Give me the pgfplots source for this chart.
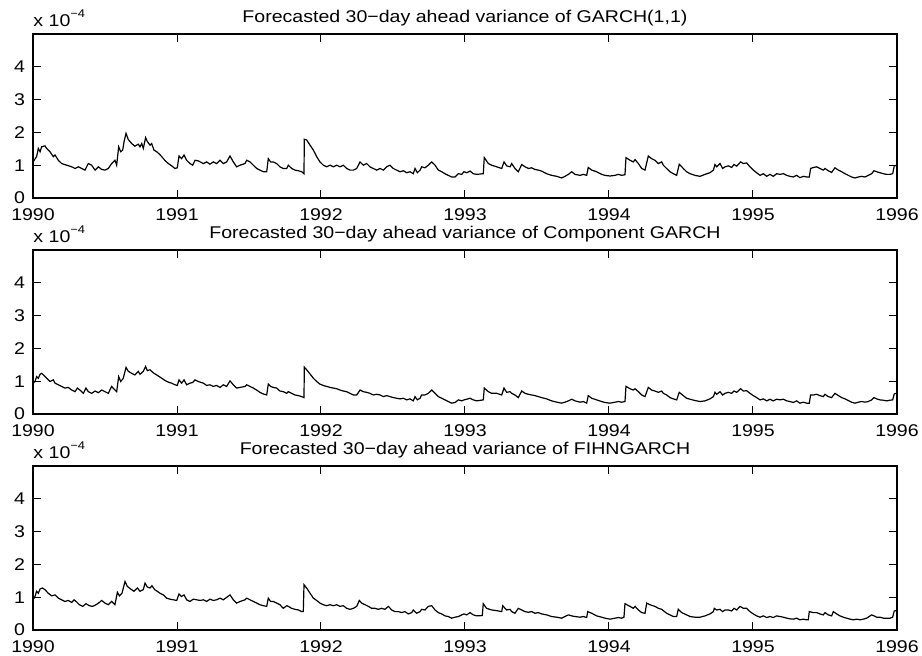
\documentclass[border=0pt]{standalone}
\usepackage{fontspec}
\setmainfont{Liberation Sans}
\usepackage{pgfplots}
\usepackage{pgfplotstable}
\pgfplotsset{compat=1.18}

% Forecasted 30-day ahead variance, in units of 1e-4
\pgfplotstableread{
year v
1990.000 1.10
1990.025 1.26
1990.037 1.51
1990.049 1.41
1990.060 1.56
1990.083 1.59
1990.095 1.51
1990.118 1.41
1990.141 1.26
1990.153 1.31
1990.176 1.15
1990.199 1.05
1990.234 1.00
1990.269 0.95
1990.292 0.90
1990.315 0.95
1990.338 0.90
1990.361 0.85
1990.384 1.05
1990.407 1.00
1990.431 0.85
1990.454 0.95
1990.477 0.87
1990.500 0.85
1990.523 0.90
1990.546 1.05
1990.569 1.15
1990.581 1.00
1990.595 1.56
1990.609 1.41
1990.623 1.46
1990.632 1.71
1990.646 1.97
1990.662 1.78
1990.685 1.66
1990.708 1.58
1990.731 1.64
1990.743 1.56
1990.755 1.66
1990.766 1.51
1990.782 1.84
1990.794 1.72
1990.813 1.61
1990.824 1.66
1990.840 1.46
1990.859 1.41
1990.877 1.34
1990.894 1.26
1990.917 1.14
1990.940 1.05
1990.963 0.98
1990.986 0.90
1991.002 0.92
1991.014 1.28
1991.032 1.20
1991.049 1.31
1991.067 1.15
1991.090 1.05
1991.109 1.00
1991.125 1.15
1991.148 1.13
1991.183 1.05
1991.206 1.10
1991.229 1.03
1991.252 1.10
1991.275 1.05
1991.299 1.15
1991.322 1.05
1991.345 1.10
1991.368 1.28
1991.391 1.10
1991.414 0.95
1991.438 1.00
1991.472 1.05
1991.484 1.15
1991.507 1.10
1991.530 1.00
1991.553 0.90
1991.576 0.85
1991.600 0.80
1991.623 0.80
1991.634 1.20
1991.650 1.10
1991.669 1.10
1991.692 1.05
1991.715 0.95
1991.738 0.90
1991.762 0.90
1991.773 1.00
1991.796 0.90
1991.819 0.85
1991.843 0.83
1991.866 0.80
1991.882 0.74
1991.884 1.79
1991.900 1.77
1991.924 1.61
1991.947 1.46
1991.970 1.26
1991.993 1.10
1992.016 1.00
1992.039 0.95
1992.063 1.00
1992.086 0.95
1992.109 1.00
1992.132 0.95
1992.155 1.00
1992.178 0.90
1992.201 0.85
1992.225 0.85
1992.248 0.90
1992.271 1.10
1992.294 1.00
1992.317 1.05
1992.340 0.95
1992.363 0.90
1992.387 0.85
1992.410 0.90
1992.433 0.85
1992.456 0.95
1992.479 1.00
1992.502 0.90
1992.525 0.85
1992.549 0.80
1992.572 0.83
1992.595 0.77
1992.618 0.80
1992.641 0.74
1992.653 0.90
1992.669 0.77
1992.688 0.85
1992.699 0.95
1992.722 0.92
1992.745 1.00
1992.769 1.10
1992.792 1.00
1992.815 0.85
1992.838 0.80
1992.861 0.74
1992.884 0.69
1992.907 0.64
1992.931 0.64
1992.954 0.74
1992.977 0.72
1992.993 0.80
1993.012 0.77
1993.035 0.82
1993.058 0.74
1993.081 0.72
1993.127 0.74
1993.134 1.23
1993.162 1.05
1993.185 1.00
1993.220 0.95
1993.255 0.90
1993.271 1.10
1993.289 0.98
1993.313 0.95
1993.324 1.05
1993.347 0.90
1993.370 0.80
1993.394 1.02
1993.417 0.95
1993.440 0.90
1993.463 0.92
1993.486 0.87
1993.509 0.85
1993.532 0.82
1993.567 0.74
1993.602 0.69
1993.637 0.66
1993.671 0.61
1993.694 0.66
1993.718 0.72
1993.741 0.80
1993.764 0.72
1993.799 0.69
1993.822 0.72
1993.845 0.69
1993.856 0.93
1993.880 0.85
1993.914 0.80
1993.949 0.72
1993.972 0.69
1994.007 0.67
1994.042 0.69
1994.065 0.72
1994.088 0.69
1994.111 0.71
1994.118 1.23
1994.146 1.15
1994.169 1.10
1994.181 1.17
1994.204 1.05
1994.227 0.90
1994.250 0.85
1994.273 1.28
1994.296 1.20
1994.319 1.15
1994.343 1.05
1994.366 1.10
1994.377 1.00
1994.400 0.90
1994.424 0.80
1994.447 0.74
1994.470 0.69
1994.488 1.03
1994.516 0.90
1994.539 0.80
1994.563 0.74
1994.597 0.69
1994.632 0.66
1994.667 0.72
1994.701 0.77
1994.725 0.85
1994.736 1.02
1994.748 0.95
1994.771 1.05
1994.789 0.90
1994.806 0.95
1994.829 0.98
1994.852 0.93
1994.868 1.02
1994.887 0.97
1994.914 1.10
1994.933 1.05
1994.956 1.07
1994.979 0.95
1995.002 0.85
1995.025 0.77
1995.049 0.69
1995.072 0.74
1995.095 0.66
1995.118 0.72
1995.141 0.66
1995.164 0.74
1995.188 0.72
1995.211 0.74
1995.234 0.69
1995.257 0.66
1995.280 0.64
1995.303 0.69
1995.326 0.62
1995.350 0.66
1995.373 0.64
1995.391 0.64
1995.400 0.90
1995.419 0.93
1995.442 0.95
1995.465 0.90
1995.488 0.85
1995.500 0.90
1995.523 0.83
1995.546 0.78
1995.569 0.92
1995.593 0.85
1995.616 0.80
1995.639 0.74
1995.662 0.69
1995.685 0.64
1995.708 0.61
1995.731 0.64
1995.755 0.66
1995.778 0.64
1995.801 0.69
1995.824 0.74
1995.840 0.83
1995.859 0.80
1995.882 0.77
1995.905 0.74
1995.928 0.72
1995.951 0.72
1995.970 0.74
1995.981 0.98
1995.993 0.99
}\garch

\pgfplotstableread{
year v
1990.000 0.94
1990.014 0.99
1990.025 1.14
1990.037 1.09
1990.049 1.21
1990.060 1.24
1990.072 1.19
1990.095 1.09
1990.118 0.99
1990.141 1.04
1990.153 0.94
1990.176 0.89
1990.199 0.84
1990.222 0.79
1990.245 0.81
1990.269 0.73
1990.292 0.68
1990.308 0.79
1990.326 0.73
1990.350 0.63
1990.368 0.79
1990.384 0.68
1990.407 0.63
1990.431 0.70
1990.454 0.65
1990.477 0.73
1990.500 0.68
1990.523 0.63
1990.546 0.84
1990.569 0.73
1990.581 0.68
1990.595 1.14
1990.609 0.99
1990.627 1.09
1990.646 1.42
1990.662 1.30
1990.685 1.24
1990.708 1.19
1990.731 1.30
1990.743 1.21
1990.766 1.30
1990.782 1.45
1990.794 1.32
1990.813 1.35
1990.824 1.30
1990.840 1.24
1990.859 1.19
1990.877 1.14
1990.894 1.09
1990.917 1.02
1990.940 0.97
1990.963 0.94
1990.986 0.89
1991.002 0.87
1991.014 1.04
1991.032 0.94
1991.049 1.04
1991.067 0.89
1991.090 0.94
1991.109 0.96
1991.125 1.04
1991.148 0.99
1991.183 0.94
1991.206 0.87
1991.229 0.89
1991.252 0.84
1991.275 0.87
1991.299 0.81
1991.322 0.89
1991.345 0.84
1991.368 1.01
1991.391 0.89
1991.414 0.79
1991.438 0.81
1991.472 0.84
1991.484 0.89
1991.507 0.84
1991.530 0.79
1991.553 0.73
1991.576 0.66
1991.600 0.61
1991.623 0.58
1991.634 0.91
1991.650 0.84
1991.669 0.81
1991.692 0.79
1991.715 0.70
1991.738 0.68
1991.762 0.63
1991.773 0.68
1991.796 0.63
1991.819 0.58
1991.843 0.56
1991.866 0.53
1991.882 0.50
1991.884 1.43
1991.900 1.35
1991.924 1.22
1991.947 1.09
1991.970 0.99
1991.993 0.91
1992.016 0.87
1992.039 0.84
1992.063 0.81
1992.086 0.79
1992.109 0.77
1992.132 0.73
1992.155 0.70
1992.178 0.68
1992.201 0.63
1992.225 0.58
1992.248 0.58
1992.271 0.73
1992.294 0.68
1992.317 0.66
1992.340 0.63
1992.363 0.58
1992.387 0.60
1992.410 0.58
1992.433 0.53
1992.456 0.56
1992.479 0.53
1992.502 0.50
1992.525 0.48
1992.549 0.46
1992.572 0.48
1992.595 0.43
1992.618 0.46
1992.641 0.40
1992.653 0.53
1992.669 0.43
1992.688 0.48
1992.699 0.58
1992.722 0.58
1992.745 0.63
1992.769 0.73
1992.792 0.63
1992.815 0.53
1992.838 0.48
1992.861 0.43
1992.884 0.38
1992.907 0.33
1992.931 0.35
1992.954 0.43
1992.977 0.40
1992.993 0.43
1993.012 0.45
1993.035 0.48
1993.058 0.43
1993.081 0.40
1993.127 0.43
1993.134 0.79
1993.162 0.68
1993.185 0.63
1993.220 0.63
1993.255 0.58
1993.271 0.79
1993.289 0.66
1993.313 0.68
1993.324 0.63
1993.347 0.58
1993.370 0.50
1993.394 0.70
1993.417 0.63
1993.440 0.60
1993.463 0.58
1993.486 0.56
1993.509 0.53
1993.532 0.50
1993.567 0.46
1993.602 0.40
1993.637 0.36
1993.671 0.33
1993.694 0.36
1993.718 0.40
1993.741 0.45
1993.764 0.40
1993.799 0.36
1993.822 0.38
1993.845 0.33
1993.856 0.56
1993.880 0.48
1993.914 0.43
1993.949 0.38
1993.972 0.35
1994.007 0.33
1994.042 0.36
1994.065 0.38
1994.088 0.36
1994.111 0.38
1994.118 0.84
1994.146 0.77
1994.169 0.73
1994.181 0.77
1994.204 0.68
1994.227 0.58
1994.250 0.53
1994.273 0.81
1994.296 0.73
1994.319 0.70
1994.343 0.66
1994.366 0.70
1994.377 0.63
1994.400 0.58
1994.424 0.50
1994.447 0.46
1994.470 0.43
1994.488 0.66
1994.516 0.56
1994.539 0.48
1994.563 0.45
1994.597 0.41
1994.632 0.38
1994.667 0.40
1994.701 0.46
1994.725 0.53
1994.736 0.66
1994.748 0.60
1994.771 0.68
1994.789 0.58
1994.806 0.63
1994.829 0.66
1994.852 0.63
1994.868 0.70
1994.887 0.66
1994.914 0.77
1994.933 0.70
1994.956 0.71
1994.979 0.63
1995.002 0.56
1995.025 0.50
1995.049 0.43
1995.072 0.46
1995.095 0.40
1995.118 0.45
1995.141 0.40
1995.164 0.45
1995.188 0.43
1995.211 0.45
1995.234 0.40
1995.257 0.38
1995.280 0.35
1995.303 0.40
1995.326 0.33
1995.350 0.36
1995.373 0.33
1995.391 0.33
1995.400 0.58
1995.419 0.58
1995.442 0.60
1995.465 0.56
1995.488 0.53
1995.500 0.60
1995.523 0.53
1995.546 0.50
1995.569 0.63
1995.593 0.56
1995.616 0.50
1995.639 0.46
1995.662 0.41
1995.685 0.36
1995.708 0.33
1995.731 0.36
1995.755 0.38
1995.778 0.36
1995.801 0.38
1995.824 0.43
1995.840 0.50
1995.859 0.46
1995.882 0.43
1995.905 0.42
1995.928 0.40
1995.951 0.42
1995.970 0.43
1995.981 0.61
1995.993 0.63
}\compgarch

\pgfplotstableread{
year v
1990.000 0.92
1990.014 1.02
1990.025 1.18
1990.037 1.12
1990.049 1.25
1990.065 1.28
1990.083 1.23
1990.106 1.12
1990.130 1.04
1990.153 1.07
1990.176 0.97
1990.199 0.92
1990.222 0.87
1990.245 0.90
1990.269 0.84
1990.285 0.92
1990.299 0.87
1990.322 0.77
1990.345 0.72
1990.368 0.80
1990.391 0.74
1990.414 0.72
1990.438 0.77
1990.461 0.84
1990.477 0.90
1990.500 0.82
1990.523 0.77
1990.546 0.87
1990.569 0.77
1990.586 1.15
1990.600 1.04
1990.618 1.12
1990.639 1.48
1990.655 1.33
1990.678 1.25
1990.701 1.18
1990.725 1.28
1990.743 1.18
1990.766 1.23
1990.778 1.43
1990.794 1.31
1990.813 1.28
1990.826 1.35
1990.845 1.23
1990.863 1.18
1990.882 1.12
1990.905 1.07
1990.928 0.97
1990.951 0.94
1990.975 0.92
1990.998 0.90
1991.014 1.10
1991.032 1.02
1991.049 1.07
1991.067 0.92
1991.090 0.87
1991.113 0.94
1991.137 0.92
1991.160 0.90
1991.183 0.92
1991.206 0.87
1991.229 0.94
1991.252 0.90
1991.275 0.92
1991.299 0.97
1991.322 0.92
1991.368 1.07
1991.391 0.92
1991.414 0.82
1991.438 0.87
1991.472 0.92
1991.484 0.97
1991.507 0.92
1991.530 0.87
1991.553 0.82
1991.576 0.77
1991.600 0.74
1991.623 0.72
1991.634 0.97
1991.650 0.87
1991.669 0.87
1991.692 0.82
1991.715 0.77
1991.738 0.66
1991.762 0.74
1991.773 0.72
1991.796 0.66
1991.819 0.63
1991.843 0.61
1991.866 0.56
1991.877 0.56
1991.882 1.38
1991.900 1.28
1991.924 1.12
1991.947 0.97
1991.970 0.90
1991.993 0.82
1992.016 0.77
1992.039 0.74
1992.063 0.77
1992.086 0.74
1992.109 0.77
1992.132 0.72
1992.155 0.74
1992.178 0.66
1992.201 0.63
1992.225 0.66
1992.248 0.72
1992.266 0.90
1992.282 0.82
1992.306 0.77
1992.329 0.72
1992.352 0.66
1992.375 0.66
1992.398 0.63
1992.421 0.66
1992.444 0.63
1992.468 0.72
1992.491 0.61
1992.514 0.56
1992.537 0.56
1992.560 0.53
1992.583 0.56
1992.606 0.49
1992.630 0.53
1992.641 0.61
1992.664 0.51
1992.688 0.56
1992.699 0.63
1992.722 0.61
1992.745 0.72
1992.769 0.74
1992.792 0.61
1992.815 0.53
1992.838 0.49
1992.861 0.43
1992.884 0.41
1992.907 0.36
1992.931 0.39
1992.954 0.41
1992.977 0.46
1992.993 0.49
1993.012 0.46
1993.035 0.53
1993.058 0.46
1993.081 0.43
1993.120 0.44
1993.127 0.80
1993.150 0.66
1993.185 0.61
1993.220 0.59
1993.255 0.56
1993.262 0.74
1993.289 0.61
1993.313 0.63
1993.324 0.56
1993.347 0.51
1993.370 0.66
1993.394 0.61
1993.417 0.56
1993.440 0.54
1993.463 0.56
1993.486 0.51
1993.509 0.53
1993.532 0.49
1993.567 0.46
1993.602 0.41
1993.637 0.39
1993.671 0.36
1993.694 0.41
1993.718 0.46
1993.741 0.43
1993.764 0.41
1993.799 0.39
1993.822 0.41
1993.845 0.38
1993.852 0.56
1993.880 0.51
1993.914 0.43
1993.949 0.39
1993.972 0.36
1994.007 0.33
1994.042 0.36
1994.065 0.38
1994.088 0.36
1994.104 0.39
1994.111 0.80
1994.146 0.72
1994.169 0.66
1994.181 0.72
1994.204 0.61
1994.227 0.53
1994.250 0.51
1994.262 0.82
1994.285 0.77
1994.319 0.72
1994.343 0.66
1994.366 0.63
1994.377 0.59
1994.400 0.51
1994.424 0.46
1994.447 0.41
1994.470 0.41
1994.481 0.63
1994.505 0.53
1994.539 0.46
1994.563 0.41
1994.597 0.39
1994.632 0.39
1994.667 0.43
1994.701 0.49
1994.725 0.56
1994.731 0.66
1994.748 0.61
1994.771 0.63
1994.789 0.56
1994.806 0.61
1994.829 0.61
1994.852 0.58
1994.868 0.66
1994.887 0.61
1994.910 0.72
1994.933 0.66
1994.956 0.66
1994.979 0.56
1995.002 0.49
1995.025 0.43
1995.049 0.39
1995.072 0.43
1995.095 0.38
1995.118 0.41
1995.141 0.38
1995.164 0.43
1995.188 0.41
1995.211 0.39
1995.234 0.36
1995.257 0.34
1995.280 0.33
1995.303 0.36
1995.326 0.31
1995.350 0.33
1995.373 0.31
1995.384 0.31
1995.391 0.56
1995.419 0.53
1995.442 0.53
1995.465 0.49
1995.488 0.46
1995.500 0.53
1995.523 0.46
1995.546 0.43
1995.558 0.56
1995.581 0.49
1995.604 0.43
1995.627 0.39
1995.650 0.36
1995.674 0.33
1995.697 0.31
1995.720 0.33
1995.743 0.31
1995.766 0.33
1995.789 0.36
1995.824 0.46
1995.840 0.43
1995.859 0.39
1995.882 0.39
1995.905 0.36
1995.928 0.36
1995.951 0.36
1995.970 0.39
1995.981 0.58
1995.993 0.59
}\fihngarch

\newcommand{\labfont}{\fontsize{8.5}{10}\selectfont}
\newcommand{\scalelabel}{%
  \node[anchor=base west, inner sep=0pt, xscale=1.15, font=\labfont]
    at (rel axis cs:0,1) [yshift=3.7pt]
    {x 10\raisebox{4.4pt}{\fontsize{5.6}{6}\selectfont −4}};}
\newcommand{\heavyframe}{%
  \draw[line width=1pt, line cap=rect] (rel axis cs:0,1) -- (rel axis cs:0,0) -- (rel axis cs:1,0);}

\pgfplotsset{
  varpanel/.style={
    scale only axis,
    width=432pt, height=82pt,
    anchor=south west,
    clip mode=individual,
    xmin=1990, xmax=1996, ymin=0, ymax=5,
    xtick={1990,1991,1992,1993,1994,1995,1996},
    ytick={0,1,2,3,4},
    /pgf/number format/assume math mode=true,
    xticklabel style={/pgf/number format/1000 sep={}, yshift=-1.6pt},
    tick label style={font=\labfont, xscale=1.15},
    tick align=inside,
    major tick length=3.9pt,
    tick style={black, line width=0.5pt},
    axis line style={line width=0.6pt},
    every axis title/.style={at={(0.5,1)}, anchor=base, yshift=5.9pt,
      font=\labfont, xscale=1.15},
  },
  varline/.style={black, line width=0.6pt, no markers},
}

\begin{document}
\begin{tikzpicture}
\path[use as bounding box] (0pt,0pt) rectangle (461pt,328pt);

\begin{axis}[varpanel, at={(16.5pt,229pt)},
  title={Forecasted 30−day ahead variance of GARCH(1,1)}]
\addplot[varline] table[x=year, y=v] {\garch};
\heavyframe
\scalelabel
\end{axis}

\begin{axis}[varpanel, at={(16.5pt,121pt)},
  title={Forecasted 30−day ahead variance of Component GARCH}]
\addplot[varline] table[x=year, y=v] {\compgarch};
\heavyframe
\scalelabel
\end{axis}

\begin{axis}[varpanel, at={(16.5pt,13pt)},
  title={Forecasted 30−day ahead variance of FIHNGARCH}]
\addplot[varline] table[x=year, y=v] {\fihngarch};
\heavyframe
\scalelabel
\end{axis}
\end{tikzpicture}
\end{document}
